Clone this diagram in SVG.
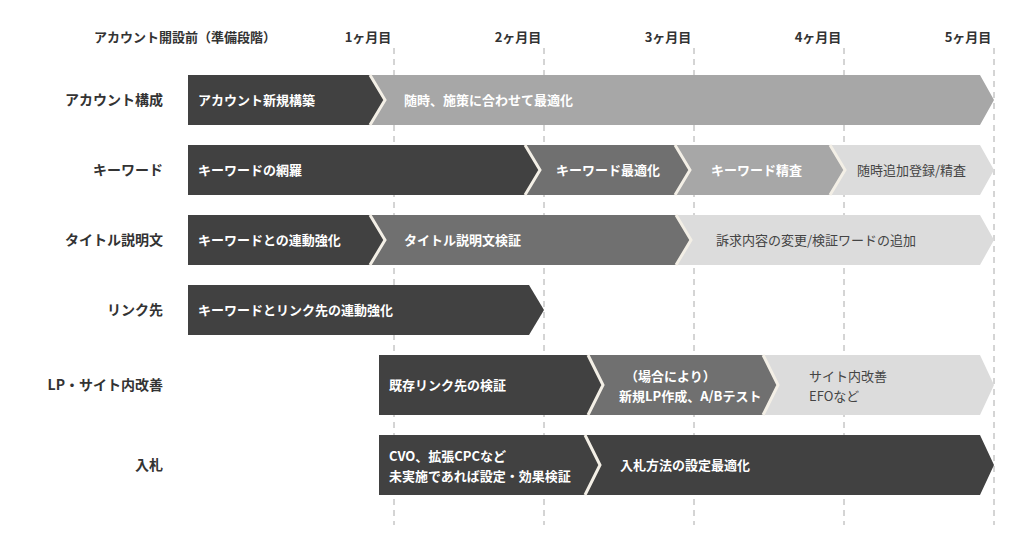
<svg xmlns="http://www.w3.org/2000/svg" width="1020" height="555" viewBox="0 0 1020 555">
<style>
text{font-family:"Noto Sans CJK JP","Noto Sans",sans-serif;}
.hd{font-size:13px;font-weight:bold;fill:#333;text-anchor:middle}
.rl{font-size:14px;font-weight:bold;fill:#333;text-anchor:end}
.w{font-size:13px;font-weight:bold;fill:#fff}
.g{font-size:13px;fill:#444}
.grid{stroke:#aaa;stroke-width:1;stroke-dasharray:6,5}
.sep{fill:none;stroke:#f3efe6;stroke-width:3}
.c1{fill:#414141}.c2{fill:#707070}.c3{fill:#a7a7a7}.c4{fill:#dcdcdc}
</style>
<g id="grid">
<line class="grid" x1="394" y1="48" x2="394" y2="525"/>
<line class="grid" x1="544" y1="48" x2="544" y2="525"/>
<line class="grid" x1="694" y1="48" x2="694" y2="525"/>
<line class="grid" x1="844" y1="48" x2="844" y2="525"/>
<line class="grid" x1="994" y1="48" x2="994" y2="525"/>
</g>
<g id="header">
<text class="hd" x="185" y="42">アカウント開設前（準備段階）</text>
<text class="hd" x="368" y="42">1ヶ月目</text>
<text class="hd" x="518" y="42">2ヶ月目</text>
<text class="hd" x="668" y="42">3ヶ月目</text>
<text class="hd" x="818" y="42">4ヶ月目</text>
<text class="hd" x="968" y="42">5ヶ月目</text>
</g>
<g id="labels">
<text class="rl" x="163" y="105">アカウント構成</text>
<text class="rl" x="163" y="175">キーワード</text>
<text class="rl" x="163" y="245">タイトル説明文</text>
<text class="rl" x="163" y="315">リンク先</text>
<text class="rl" x="163" y="390">LP・サイト内改善</text>
<text class="rl" x="163" y="470">入札</text>
</g>
<g id="connectors">
<g id="row1">
<polygon class="c3" points="370,75 980,75 994,100 980,125 370,125 385,100"/>
<polygon class="c1" points="188,75 370,75 385,100 370,125 188,125"/>
<polyline class="sep" points="370,75 385,100 370,125"/>
<text class="w" x="198" y="105">アカウント新規構築</text>
<text class="w" x="404" y="105">随時、施策に合わせて最適化</text>
</g>
<g id="row2">
<polygon class="c4" points="830,145 980,145 994,170 980,195 830,195 845,170"/>
<polygon class="c3" points="675,145 830,145 845,170 830,195 675,195 690,170"/>
<polygon class="c2" points="525,145 675,145 690,170 675,195 525,195 540,170"/>
<polygon class="c1" points="188,145 525,145 540,170 525,195 188,195"/>
<polyline class="sep" points="525,145 540,170 525,195"/>
<polyline class="sep" points="675,145 690,170 675,195"/>
<polyline class="sep" points="830,145 845,170 830,195"/>
<text class="w" x="198" y="175">キーワードの網羅</text>
<text class="w" x="556" y="175">キーワード最適化</text>
<text class="w" x="711" y="175">キーワード精査</text>
<text class="g" x="857" y="175">随時追加登録/精査</text>
</g>
<g id="row3">
<polygon class="c4" points="676,215 980,215 994,240 980,265 676,265 691,240"/>
<polygon class="c2" points="370,215 676,215 691,240 676,265 370,265 385,240"/>
<polygon class="c1" points="188,215 370,215 385,240 370,265 188,265"/>
<polyline class="sep" points="370,215 385,240 370,265"/>
<polyline class="sep" points="676,215 691,240 676,265"/>
<text class="w" x="198" y="245">キーワードとの連動強化</text>
<text class="w" x="404" y="245">タイトル説明文検証</text>
<text class="g" x="716" y="245">訴求内容の変更/検証ワードの追加</text>
</g>
<g id="row4">
<polygon class="c1" points="188,285 529,285 544,310 529,335 188,335"/>
<text class="w" x="198" y="315">キーワードとリンク先の連動強化</text>
</g>
<g id="row5">
<polygon class="c4" points="763,355 980,355 994,385 980,415 763,415 778,385"/>
<polygon class="c2" points="588,355 763,355 778,385 763,415 588,415 603,385"/>
<polygon class="c1" points="379,355 588,355 603,385 588,415 379,415"/>
<polyline class="sep" points="588,355 603,385 588,415"/>
<polyline class="sep" points="763,355 778,385 763,415"/>
<text class="w" x="389" y="390">既存リンク先の検証</text>
<text class="w" x="625" y="381">（場合により）</text>
<text class="w" x="619" y="401">新規LP作成、A/Bテスト</text>
<text class="g" x="809" y="381">サイト内改善</text>
<text class="g" x="809" y="401">EFOなど</text>
</g>
<g id="row6">
<polygon class="c1" points="585,435 980,435 994,465 980,495 585,495 600,465"/>
<polygon class="c1" points="379,435 585,435 600,465 585,495 379,495"/>
<polyline class="sep" points="585,435 600,465 585,495"/>
<text class="w" x="389" y="461">CVO、拡張CPCなど</text>
<text class="w" x="389" y="481">未実施であれば設定・効果検証</text>
<text class="w" x="620" y="470">入札方法の設定最適化</text>
</g>
</g>
</svg>
